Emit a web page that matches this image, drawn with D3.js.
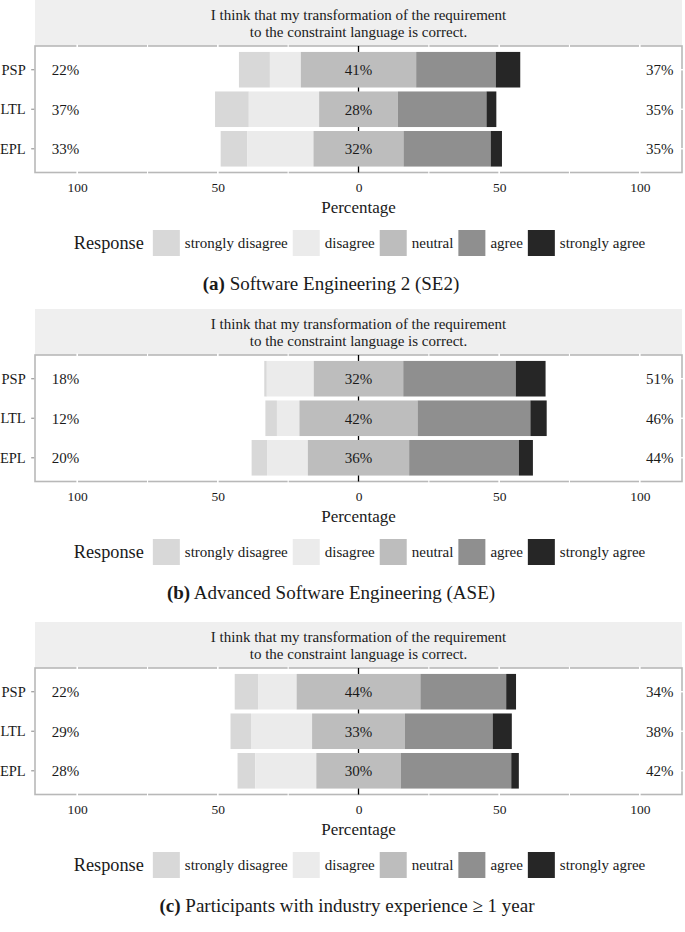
<!DOCTYPE html>
<html>
<head>
<meta charset="utf-8">
<script src="https://cdn.jsdelivr.net/npm/d3@7"></script>
<style>
  html, body { margin: 0; padding: 0; background: #fff; }
  svg { display: block; }
  text { font-family: "Liberation Serif", "Times New Roman", serif; fill: #1a1a1a; }
</style>
</head>
<body>
<svg id="chart" width="685" height="932"></svg>
<script>
// ---------------- data ----------------
const categories = ["PSP", "LTL", "EPL"];
const responses = ["strongly disagree", "disagree", "neutral", "agree", "strongly agree"];
const responseColors = ["#d8d8d8", "#ebebeb", "#bdbdbd", "#8f8f8f", "#262626"];
const questionLines = ["I think that my transformation of the requirement", "to the constraint language is correct."];
const xTicks = [-100, -50, 0, 50, 100];
const xMinorTicks = [-75, -25, 25, 75];

// rows follow categories, columns follow responses (percent of answers)
const se2Values = [
  [11.0, 11.0, 41.0, 28.3, 8.7],
  [12.0, 25.0, 28.0, 31.5, 3.5],
  [9.5, 23.5, 32.0, 31.0, 4.0]
];
const aseValues = [
  [0.9, 16.7, 31.8, 40.0, 10.6],
  [4.1, 8.0, 42.0, 40.1, 5.8],
  [5.5, 14.5, 36.0, 39.0, 5.0]
];
const industryValues = [
  [8.3, 13.7, 44.0, 30.5, 3.5],
  [7.3, 21.7, 33.0, 31.2, 6.8],
  [6.3, 21.7, 30.0, 39.3, 2.7]
];
const captionLetters = ["(a)", "(b)", "(c)"];
const captionTexts = ["Software Engineering 2 (SE2)", "Advanced Software Engineering (ASE)", "Participants with industry experience \u2265 1 year"];

// ---------------- layout ----------------
const svg = d3.select("#chart");
const panelTops = [0, 309, 622];
const captionCenters = [331, 331, 347];
const panelsData = [se2Values, aseValues, industryValues];
const left = 35, right = 682;
const x = d3.scaleLinear().domain([-115, 115]).range([left, right]);
const color = d3.scaleOrdinal().domain(responses).range(responseColors);

panelsData.forEach((values, pi) => {
  const T = panelTops[pi];
  const g = svg.append("g");
  const stripH = 46, panelTop = T + stripH, panelBottom = T + 172.5;

  const y = d3.scaleBand().domain(categories).range([panelTop, panelBottom])
    .paddingInner(0.1).paddingOuter(0.15);

  // strip
  g.append("rect").attr("x", left).attr("y", T).attr("width", right - left).attr("height", stripH)
    .attr("fill", "#efefef");
  questionLines.forEach((ln, i) => {
    g.append("text").attr("x", x(0)).attr("y", T + 14.5 + i * 17).attr("dy", "0.35em")
      .attr("text-anchor", "middle").style("font-size", "15px").text(ln);
  });

  // panel background + border
  g.append("rect").attr("x", left).attr("y", panelTop).attr("width", right - left)
    .attr("height", panelBottom - panelTop).attr("fill", "#fff")
    .attr("stroke", "#b8b8b8").attr("stroke-width", 1.6);

  // white grid lines (only visible where they cross the border)
  g.selectAll(".vg").data(xTicks.filter(d => d !== 0).concat(xMinorTicks)).join("line")
    .attr("x1", d => x(d)).attr("x2", d => x(d))
    .attr("y1", panelTop - 1.5).attr("y2", panelBottom + 1.5)
    .attr("stroke", "#fff").attr("stroke-width", d => Math.abs(d) % 50 === 0 ? 1.6 : 1.1);
  g.selectAll(".hg").data(categories).join("line")
    .attr("x1", right - 1.5).attr("x2", right + 1.5)
    .attr("y1", d => y(d) + y.bandwidth() / 2).attr("y2", d => y(d) + y.bandwidth() / 2)
    .attr("stroke", "#fff").attr("stroke-width", 1.4);

  // zero line
  g.append("line").attr("x1", x(0)).attr("x2", x(0)).attr("y1", panelTop).attr("y2", panelBottom)
    .attr("stroke", "#000").attr("stroke-width", 1.3);

  // bars
  const segs = [];
  values.forEach((row, ci) => {
    const [sd, d, n, a, sa] = row;
    const half = n / 2;
    segs.push({ c: categories[ci], r: responses[0], x0: -half - d - sd, x1: -half - d });
    segs.push({ c: categories[ci], r: responses[1], x0: -half - d, x1: -half });
    segs.push({ c: categories[ci], r: responses[2], x0: -half, x1: half });
    segs.push({ c: categories[ci], r: responses[3], x0: half, x1: half + a });
    segs.push({ c: categories[ci], r: responses[4], x0: half + a, x1: half + a + sa });
  });
  g.selectAll(".bar").data(segs).join("rect")
    .attr("x", d => x(d.x0)).attr("width", d => x(d.x1) - x(d.x0))
    .attr("y", d => y(d.c)).attr("height", y.bandwidth())
    .attr("fill", d => color(d.r));

  // percent labels
  values.forEach((row, ci) => {
    const cy = y(categories[ci]) + y.bandwidth() / 2;
    const low = Math.round(row[0] + row[1]);
    const mid = Math.round(row[2]);
    const high = Math.round(row[3] + row[4]);
    [[-104.2, low], [0, mid], [107.1, high]].forEach(([px, v]) => {
      g.append("text").attr("x", x(px)).attr("y", cy).attr("dy", "0.35em")
        .attr("text-anchor", "middle").style("font-size", "15px").text(v + "%");
    });
  });

  // axes
  const xAxis = g.append("g").attr("transform", `translate(0,${panelBottom})`)
    .call(d3.axisBottom(x).tickValues(xTicks).tickSize(0).tickFormat(d => Math.abs(d)));
  xAxis.select(".domain").remove();
  xAxis.selectAll("text").attr("y", 14.5).attr("dy", "0.35em")
    .style("font-size", "13.5px").style("font-family", "Liberation Serif").attr("fill", "#1a1a1a");

  const yAxis = g.append("g").attr("transform", `translate(${left - 0.8},0)`)
    .call(d3.axisLeft(y).tickSize(3).tickPadding(5.5));
  yAxis.select(".domain").remove();
  yAxis.selectAll("line").attr("stroke", "#9a9a9a").attr("stroke-width", 1.2);
  yAxis.selectAll("text").style("font-size", "14.5px").style("font-family", "Liberation Serif")
    .attr("fill", "#1a1a1a").attr("dy", "0.35em");

  // x axis title
  g.append("text").attr("x", x(0)).attr("y", T + 207.5).attr("dy", "0.35em")
    .attr("text-anchor", "middle").style("font-size", "17px").text("Percentage");

  // legend
  const lg = g.append("g");
  const ly = T + 243;
  const title = lg.append("text").attr("y", ly).attr("dy", "0.35em").style("font-size", "18.3px").text("Response");
  let cx = title.node().getComputedTextLength() + 9;
  responses.forEach((r, i) => {
    lg.append("rect").attr("x", cx).attr("y", ly - 13).attr("width", 27).attr("height", 26).attr("fill", color(r));
    cx += 27 + 5;
    const t = lg.append("text").attr("x", cx).attr("y", ly).attr("dy", "0.35em").style("font-size", "15px").text(r);
    cx += t.node().getComputedTextLength() + (i < responses.length - 1 ? 5 : 0);
  });
  lg.attr("transform", `translate(${359.5 - cx / 2},0)`);

  // caption
  const cap = g.append("text").attr("x", captionCenters[pi]).attr("y", T + 283).attr("dy", "0.35em")
    .attr("text-anchor", "middle").style("font-size", "19px");
  cap.append("tspan").style("font-weight", "bold").text(captionLetters[pi]);
  cap.append("tspan").text(" " + captionTexts[pi]);
});
</script>
</body>
</html>
